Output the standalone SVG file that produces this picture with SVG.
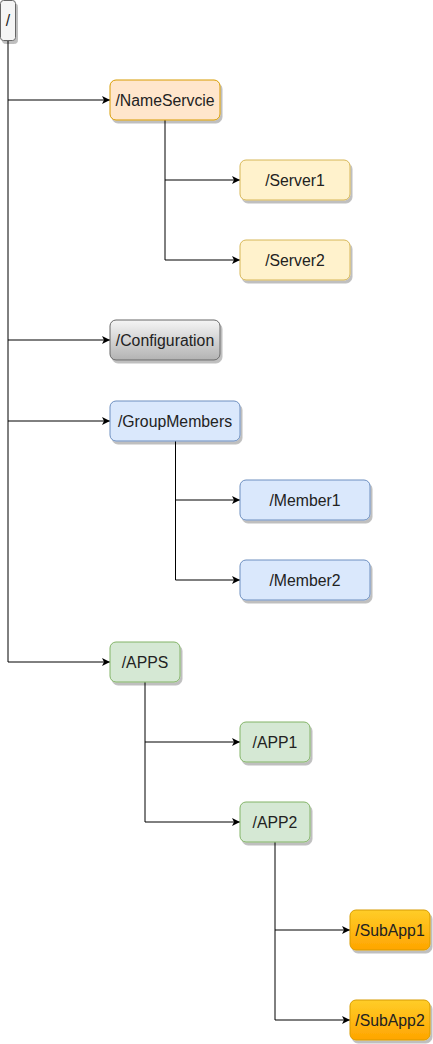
<svg xmlns="http://www.w3.org/2000/svg" width="433" height="1044" viewBox="0 0 433 1044">
<defs>
<linearGradient id="gGray" x1="0" y1="0" x2="0" y2="1"><stop offset="0" stop-color="#f5f5f5"/><stop offset="1" stop-color="#b3b3b3"/></linearGradient>
<linearGradient id="gOrange" x1="0" y1="0" x2="0" y2="1"><stop offset="0" stop-color="#ffcd28"/><stop offset="1" stop-color="#ffa500"/></linearGradient>
<filter id="sh" x="-20%" y="-20%" width="140%" height="150%"><feDropShadow dx="2" dy="3" stdDeviation="0.6" flood-color="#000" flood-opacity="0.25"/></filter>
<marker id="arr" markerUnits="userSpaceOnUse" markerWidth="10" markerHeight="10" refX="8" refY="4.5" orient="auto"><path d="M0,0.5 L8,4.5 L0,8.5 L2,4.5 Z" fill="#000"/></marker>
</defs>
<style>
.n rect{stroke-width:1;filter:url(#sh)}
.n text{font-family:"Liberation Sans",Arial,sans-serif;font-size:15.8px;fill:#222;text-anchor:middle}
.c path{fill:none;stroke:#000;stroke-width:1}
.gray{fill:#f5f5f5;stroke:#666666}
.or{fill:#ffe6cc;stroke:#d79b00}
.ye{fill:#fff2cc;stroke:#d6b656}
.cf{fill:url(#gGray);stroke:#666666}
.bl{fill:#dae8fc;stroke:#6c8ebf}
.gr{fill:#d5e8d4;stroke:#82b366}
.sa{fill:url(#gOrange);stroke:#d79b00}
</style>
<g class="c" id="connectors">
<path d="M8,40.5 V662"/>
<path d="M8,100 H110" marker-end="url(#arr)"/>
<path d="M8,340 H110" marker-end="url(#arr)"/>
<path d="M8,421 H110" marker-end="url(#arr)"/>
<path d="M8,662 H110" marker-end="url(#arr)"/>
<path d="M165,120 V260 H240" marker-end="url(#arr)"/>
<path d="M165,180 H240" marker-end="url(#arr)"/>
<path d="M175.5,441 V580 H240" marker-end="url(#arr)"/>
<path d="M175.5,500 H240" marker-end="url(#arr)"/>
<path d="M145,682 V822 H240" marker-end="url(#arr)"/>
<path d="M145,742 H240" marker-end="url(#arr)"/>
<path d="M275,842 V1020 H350" marker-end="url(#arr)"/>
<path d="M275,930 H350" marker-end="url(#arr)"/>
</g>
<g class="n" id="root"><rect class="gray" x="0.5" y="0.5" width="15" height="40" rx="3"/><text x="8" y="25.5">/</text></g>
<g class="n" id="nameservcie"><rect class="or" x="110" y="80" width="110" height="40" rx="6"/><text x="165" y="105.5">/NameServcie</text></g>
<g class="n" id="server1"><rect class="ye" x="240" y="160" width="110" height="40" rx="6"/><text x="295" y="185.5">/Server1</text></g>
<g class="n" id="server2"><rect class="ye" x="240" y="240" width="110" height="40" rx="6"/><text x="295" y="265.5">/Server2</text></g>
<g class="n" id="configuration"><rect class="cf" x="110" y="320" width="110" height="40" rx="6"/><text x="165" y="345.5">/Configuration</text></g>
<g class="n" id="groupmembers"><rect class="bl" x="110" y="401" width="130" height="40" rx="6"/><text x="175" y="426.5">/GroupMembers</text></g>
<g class="n" id="member1"><rect class="bl" x="240" y="480" width="130" height="40" rx="6"/><text x="305" y="505.5">/Member1</text></g>
<g class="n" id="member2"><rect class="bl" x="240" y="560" width="130" height="40" rx="6"/><text x="305" y="585.5">/Member2</text></g>
<g class="n" id="apps"><rect class="gr" x="110" y="642" width="70" height="40" rx="6"/><text x="145" y="667.5">/APPS</text></g>
<g class="n" id="app1"><rect class="gr" x="240" y="722" width="70" height="40" rx="6"/><text x="275" y="747.5">/APP1</text></g>
<g class="n" id="app2"><rect class="gr" x="240" y="802" width="70" height="40" rx="6"/><text x="275" y="827.5">/APP2</text></g>
<g class="n" id="subapp1"><rect class="sa" x="350" y="910" width="80" height="40" rx="6"/><text x="390" y="935.5">/SubApp1</text></g>
<g class="n" id="subapp2"><rect class="sa" x="350" y="1000" width="80" height="40" rx="6"/><text x="390" y="1025.5">/SubApp2</text></g>
</svg>
